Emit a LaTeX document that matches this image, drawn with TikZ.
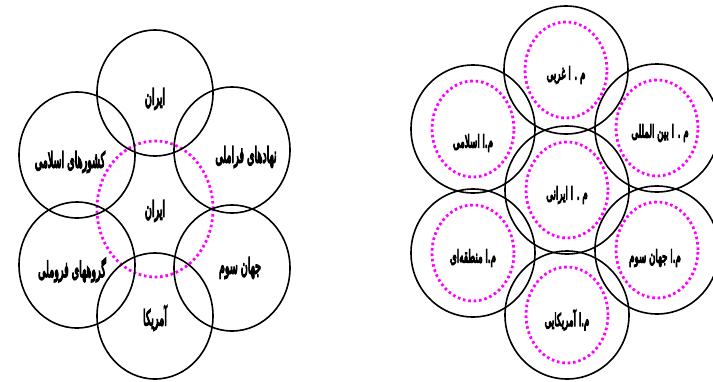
\documentclass[tikz,border=0pt]{standalone}
\usepackage{fontspec}
\usetikzlibrary{shapes.geometric}
\TeXXeTstate=1
\newfontfamily\arabicfont[Script=Arabic,FakeBold=8]{DejaVu Sans}
\definecolor{mag}{RGB}{255,0,255}
\newcommand{\ltext}[1]{\scalebox{0.56}[1.25]{\arabicfont\fontsize{17}{18}\selectfont\beginR #1\endR}}
\newcommand{\rtext}[1]{\scalebox{0.6}[1.2]{\arabicfont\fontsize{14.5}{15}\selectfont\beginR #1\endR}}
\tikzset{
  ring/.style={draw=black, line width=1.6pt, ellipse, inner sep=0pt},
  bigring/.style={ring, minimum width=116pt, minimum height=126pt},
  rring/.style={ring, minimum width=124pt, minimum height=128pt},
  dotring/.style={draw=mag, line width=2.8pt, dash pattern=on 2.6pt off 2.8pt, ellipse, inner sep=0pt},
  ltxt/.style={inner sep=0pt},
  rtxt/.style={inner sep=0pt}
}
\begin{document}
\begin{tikzpicture}[x=1pt,y=-1pt]
\useasboundingbox (0,0) rectangle (713,381);
% left group
\node[dotring, minimum width=116pt, minimum height=136pt] (lc) at (155,209) {};
\node[bigring] (lt) at (155,93) {};
\node[bigring] (lul) at (77,155) {};
\node[bigring] (lur) at (232,150) {};
\node[bigring] (lll) at (77,265) {};
\node[bigring] (llr) at (232,268) {};
\node[bigring] (lb) at (155,316) {};
\node[ltxt] (tlt) at (155,99) {\ltext{ایران}};
\node[ltxt] (tlul) at (70,162) {\ltext{کشورهای اسلامی}};
\node[ltxt] (tlur) at (246,157) {\ltext{نهادهای فراملی}};
\node[ltxt] (tlc) at (155,211) {\ltext{ایران}};
\node[ltxt] (tlll) at (72,270) {\ltext{گروههای فروملی}};
\node[ltxt] (tllr) at (240,268) {\ltext{جهان سوم}};
\node[ltxt] (tlb) at (155,318) {\ltext{آمریکا}};
% right group
\node[rring] (rt) at (566,70) {};
\node[rring] (rul) at (473,129) {};
\node[rring] (rur) at (657,128) {};
\node[rring] (rc) at (567,190) {};
\node[rring] (rll) at (473,253) {};
\node[rring] (rlr) at (657,250) {};
\node[rring] (rb) at (567,315) {};
\foreach \n in {rt,rul,rur,rc,rll,rlr,rb}
  \node[dotring, minimum width=82pt, minimum height=96pt] (d\n) at (\n.center) {};
\node[rtxt] (trt) at (566,75) {\rtext{م . ا غربی}};
\node[rtxt] (trul) at (473,143) {\rtext{م.ا اسلامی}};
\node[rtxt] (trur) at (660,133) {\rtext{م . ا بین المللی}};
\node[rtxt] (trc) at (567,195) {\rtext{م . ا ایرانی}};
\node[rtxt] (trll) at (473,258) {\rtext{م.ا منطقه‌ای}};
\node[rtxt] (trlr) at (655,258) {\rtext{م.ا جهان سوم}};
\node[rtxt] (trb) at (567,320) {\rtext{م.ا آمریکایی}};
\end{tikzpicture}
\end{document}
